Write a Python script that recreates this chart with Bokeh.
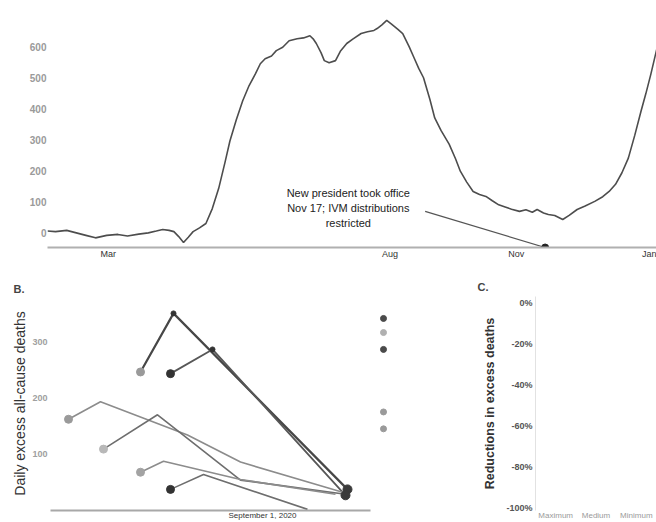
from bokeh.plotting import figure
from bokeh.layouts import column, row
from bokeh.models import FixedTicker, Label, Range1d, FactorRange, Title
from bokeh.embed import file_html
from bokeh.resources import INLINE

FONT = "Liberation Sans"

# ---------------- Panel A: excess deaths over time ----------------
a_day = [0, 5, 12, 18, 24, 30, 37, 44, 50, 57, 63, 68, 72, 76, 79, 82, 85, 88, 91, 95,
         99, 103, 107, 111, 114, 118, 122, 126, 130, 133, 136, 140, 143, 147, 151, 156,
         160, 164, 166, 168, 171, 173, 176, 180, 183, 187, 191, 196, 200, 204, 206, 209,
         212, 215, 219, 222, 226, 229, 232, 235, 239, 242, 246, 251, 255, 258, 262, 266,
         270, 274, 278, 282, 286, 290, 295, 299, 303, 306, 310, 313, 317, 322, 326, 331,
         336, 342, 347, 351, 355, 359, 363, 367, 371, 374, 377, 381]
a_excess = [8, 6, 10, 2, -6, -14, -6, -3, -8, -2, 2, 8, 13, 10, 6, -10, -29, -12, 6, 18,
            32, 80, 145, 230, 297, 365, 426, 475, 513, 545, 561, 570, 587, 598, 619, 625,
            628, 635, 625, 610, 580, 555, 548, 555, 585, 610, 625, 642, 648, 652, 658, 670,
            684, 672, 655, 642, 600, 565, 530, 500, 430, 371, 330, 287, 240, 200, 165, 135,
            125, 119, 105, 92, 85, 78, 71, 76, 68, 77, 66, 61, 58, 45, 58, 77,
            88, 103, 118, 135, 158, 195, 242, 315, 394, 450, 510, 597]
a_tick_days = [38, 214, 293, 377]
a_tick_labels = ["Mar", "Aug", "Nov", "Jan"]
a_y_ticks = [0, 100, 200, 300, 400, 500, 600]
a_event_day = 311
a_note = "New president took office\nNov 17; IVM distributions\nrestricted"
a_note_day, a_note_value = 188, 81
a_arrow_day, a_arrow_value = 236, 71

# ---------------- Panel B: daily excess all-cause deaths ----------------
b_x = [[31, 47.5, 134.5], [46, 67, 133.5], [-5, 11, 54.5, 81, 132.5],
       [12.5, 39.5, 81, 133.5], [31, 42.5, 81, 128.5], [46, 62.5, 114.5]]
b_y = [[246, 350, 37.5], [243, 286, 27], [162, 193, 134, 86, 32],
       [109, 170, 54, 29], [68, 87.5, 55, 29], [37.5, 64, 2]]
b_line_color = ["#474747", "#575757", "#8c8c8c", "#6e6e6e", "#8c8c8c", "#6e6e6e"]
b_line_width = [2.2, 1.8, 1.6, 1.6, 1.6, 1.6]
b_start_color = ["#9a9a9a", "#333333", "#9a9a9a", "#b8b8b8", "#a3a3a3", "#333333"]
b_peak_x = [47.5, 67]
b_peak_y = [350, 286]
b_end_x = [134.5, 133.5]
b_end_y = [37.5, 27]
b_key_x = [152.5] * 5
b_key_y = [341, 316, 286, 175, 145]
b_key_color = ["#4a4a4a", "#b0b0b0", "#4a4a4a", "#9a9a9a", "#9a9a9a"]
b_date_tick = 92
b_date_label = "September 1, 2020"

# ---------------- Panel C: reductions in excess deaths ----------------
c_groups = ["Maximum", "Medium", "Minimum"]
c_ticks = [0, -20, -40, -60, -80, -100]


def base(p):
    p.outline_line_color = None
    p.grid.visible = False
    p.background_fill_color = "white"
    p.border_fill_color = "white"
    for ax in p.axis:
        ax.major_label_text_font = FONT
        ax.axis_label_text_font = FONT
        ax.minor_tick_line_color = None
        ax.major_tick_line_color = None
        ax.major_tick_out = 0
        ax.major_tick_in = 0
        ax.minor_tick_out = 0
        ax.minor_tick_in = 0


# ---- A ----
pA = figure(width=656, height=261, output_backend="svg", toolbar_location=None,
            x_range=Range1d(0, 380.6), y_range=Range1d(-45, 732),
            min_border_left=47, min_border_right=0, min_border_top=5, min_border_bottom=0)
base(pA)
pA.line(a_day, a_excess, line_color="#4d4d4d", line_width=1.6)
pA.segment(x0=[a_arrow_day], y0=[a_arrow_value], x1=[a_event_day], y1=[-45],
           line_color="#555555", line_width=1.2)
pA.scatter([a_event_day], [-45], size=7, color="#222222")
pA.add_layout(Label(x=a_note_day, y=a_note_value, text=a_note, text_align="center",
                    text_baseline="middle", text_font=FONT, text_font_size="11px",
                    text_color="#222222", text_line_height=1.25))
pA.yaxis.ticker = FixedTicker(ticks=a_y_ticks)
pA.yaxis.axis_line_color = None
pA.yaxis.major_label_text_color = "#9a9a9a"
pA.yaxis.major_label_text_font_size = "10px"
pA.yaxis.major_label_text_font_style = "bold"
pA.yaxis.major_label_standoff = 1
pA.xaxis.ticker = FixedTicker(ticks=a_tick_days)
pA.xaxis.major_label_overrides = dict(zip(a_tick_days, a_tick_labels))
pA.xaxis.axis_line_color = "#b0b0b0"
pA.xaxis.axis_line_width = 2
pA.xaxis.major_label_text_color = "#333333"
pA.xaxis.major_label_text_font_size = "9px"
pA.xaxis.major_label_standoff = 1

# ---- B ----
pB = figure(width=420, height=261, output_backend="svg", toolbar_location=None,
            x_range=Range1d(-14, 161), y_range=Range1d(0, 380),
            min_border_left=50, min_border_right=20, min_border_top=30, min_border_bottom=0)
pB.title = Title(text="B.", align="left", offset=-37, standoff=3,
                 text_font=FONT, text_font_size="11px", text_font_style="bold")
base(pB)
pB.multi_line(xs=b_x, ys=b_y, line_color=b_line_color, line_width=b_line_width)
pB.scatter([xs[0] for xs in b_x], [ys[0] for ys in b_y], size=8, color=b_start_color)
pB.scatter(b_peak_x, b_peak_y, size=5, color="#333333")
pB.scatter(b_end_x, b_end_y, size=9, color="#3a3a3a")
pB.scatter(b_key_x, b_key_y, size=6, color=b_key_color)
pB.yaxis.ticker = FixedTicker(ticks=[100, 200, 300])
pB.yaxis.axis_line_color = None
pB.yaxis.major_label_text_color = "#a0a0a0"
pB.yaxis.major_label_text_font_size = "9px"
pB.yaxis.major_label_text_font_style = "bold"
pB.yaxis.major_label_standoff = 3
pB.yaxis.axis_label = "Daily excess all-cause deaths"
pB.yaxis.axis_label_text_font_size = "14px"
pB.yaxis.axis_label_text_font_style = "normal"
pB.yaxis.axis_label_text_color = "#333333"
pB.yaxis.axis_label_standoff = 1
pB.xaxis.ticker = FixedTicker(ticks=[b_date_tick])
pB.xaxis.major_label_overrides = {b_date_tick: b_date_label}
pB.xaxis.axis_line_color = "#a8a8a8"
pB.xaxis.axis_line_width = 2
pB.xaxis.bounds = (-14, 146)
pB.xaxis.major_label_text_font_size = "8px"
pB.xaxis.major_label_text_color = "#333333"
pB.xaxis.major_label_standoff = 0

# ---- C ----
pC = figure(width=236, height=261, output_backend="svg", toolbar_location=None,
            x_range=FactorRange(*c_groups), y_range=Range1d(-101, 3.4),
            min_border_left=115, min_border_right=0, min_border_top=35, min_border_bottom=0)
pC.title = Title(text="C.", align="left", offset=-58, standoff=7,
                 text_font=FONT, text_font_size="11px", text_font_style="bold")
base(pC)
pC.yaxis.ticker = FixedTicker(ticks=c_ticks)
pC.yaxis.major_label_overrides = {t: f"{t}%" for t in c_ticks}
pC.yaxis.axis_line_color = "#e2e2e2"
pC.yaxis.major_label_text_color = "#555555"
pC.yaxis.major_label_text_font_size = "9px"
pC.yaxis.major_label_text_font_style = "bold"
pC.yaxis.major_label_standoff = 3
pC.yaxis.axis_label = "Reductions in excess deaths"
pC.yaxis.axis_label_text_font_size = "12.5px"
pC.yaxis.axis_label_text_font_style = "bold"
pC.yaxis.axis_label_text_color = "#333333"
pC.yaxis.axis_label_standoff = 6
pC.xaxis.axis_line_color = None
pC.xaxis.major_label_text_color = "#9a9a9a"
pC.xaxis.major_label_text_font_size = "8px"
pC.xaxis.major_label_standoff = 0

layout = column(pA, row(pB, pC))
open("out.html", "w").write(file_html(layout, INLINE))
